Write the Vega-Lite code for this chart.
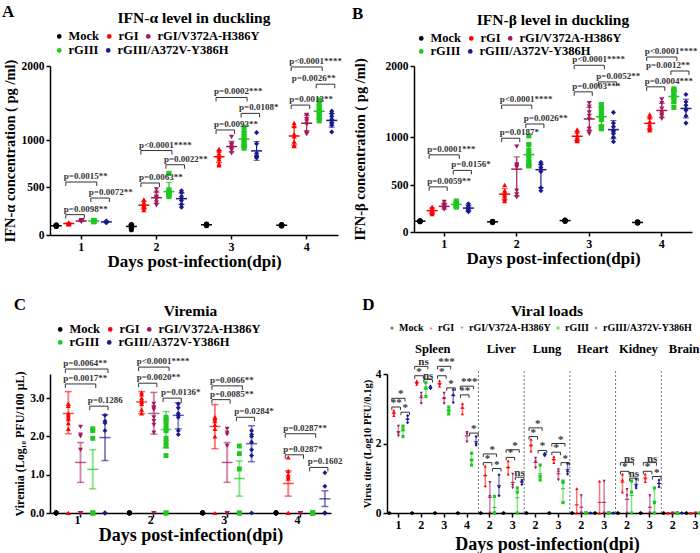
{
  "$schema": "https://vega.github.io/schema/vega-lite/v6.json",
  "padding": {"left": 2, "right": 0, "top": 2, "bottom": 0},
  "datasets": {
    "a_pts": [
      {"d":1,"g":"Mock","v":100},{"d":1,"g":"Mock","v":95},{"d":1,"g":"Mock","v":90},{"d":1,"g":"Mock","v":105},{"d":1,"g":"Mock","v":98},{"d":1,"g":"Mock","v":92},
      {"d":1,"g":"rGI","v":125},{"d":1,"g":"rGI","v":118},{"d":1,"g":"rGI","v":112},{"d":1,"g":"rGI","v":130},{"d":1,"g":"rGI","v":120},{"d":1,"g":"rGI","v":115},
      {"d":1,"g":"rGIV","v":150},{"d":1,"g":"rGIV","v":140},{"d":1,"g":"rGIV","v":145},{"d":1,"g":"rGIV","v":155},{"d":1,"g":"rGIV","v":138},{"d":1,"g":"rGIV","v":148},
      {"d":1,"g":"rGIII","v":148},{"d":1,"g":"rGIII","v":140},{"d":1,"g":"rGIII","v":152},{"d":1,"g":"rGIII","v":145},{"d":1,"g":"rGIII","v":138},{"d":1,"g":"rGIII","v":150},
      {"d":1,"g":"rGIIIA","v":140},{"d":1,"g":"rGIIIA","v":132},{"d":1,"g":"rGIIIA","v":128},{"d":1,"g":"rGIIIA","v":145},{"d":1,"g":"rGIIIA","v":135},{"d":1,"g":"rGIIIA","v":138},
      {"d":2,"g":"Mock","v":110},{"d":2,"g":"Mock","v":100},{"d":2,"g":"Mock","v":95},{"d":2,"g":"Mock","v":90},{"d":2,"g":"Mock","v":85},{"d":2,"g":"Mock","v":55},
      {"d":2,"g":"rGI","v":370},{"d":2,"g":"rGI","v":340},{"d":2,"g":"rGI","v":310},{"d":2,"g":"rGI","v":300},{"d":2,"g":"rGI","v":285},{"d":2,"g":"rGI","v":260},
      {"d":2,"g":"rGIV","v":475},{"d":2,"g":"rGIV","v":440},{"d":2,"g":"rGIV","v":400},{"d":2,"g":"rGIV","v":385},{"d":2,"g":"rGIV","v":370},{"d":2,"g":"rGIV","v":340},{"d":2,"g":"rGIV","v":310},
      {"d":2,"g":"rGIII","v":550},{"d":2,"g":"rGIII","v":470},{"d":2,"g":"rGIII","v":450},{"d":2,"g":"rGIII","v":440},{"d":2,"g":"rGIII","v":430},{"d":2,"g":"rGIII","v":420},{"d":2,"g":"rGIII","v":400},
      {"d":2,"g":"rGIIIA","v":460},{"d":2,"g":"rGIIIA","v":440},{"d":2,"g":"rGIIIA","v":400},{"d":2,"g":"rGIIIA","v":380},{"d":2,"g":"rGIIIA","v":360},{"d":2,"g":"rGIIIA","v":320},{"d":2,"g":"rGIIIA","v":290},
      {"d":3,"g":"Mock","v":115},{"d":3,"g":"Mock","v":108},{"d":3,"g":"Mock","v":100},{"d":3,"g":"Mock","v":105},{"d":3,"g":"Mock","v":112},{"d":3,"g":"Mock","v":98},
      {"d":3,"g":"rGI","v":880},{"d":3,"g":"rGI","v":858},{"d":3,"g":"rGI","v":820},{"d":3,"g":"rGI","v":790},{"d":3,"g":"rGI","v":770},{"d":3,"g":"rGI","v":740},{"d":3,"g":"rGI","v":680},{"d":3,"g":"rGI","v":660},
      {"d":3,"g":"rGIV","v":1040},{"d":3,"g":"rGIV","v":950},{"d":3,"g":"rGIV","v":930},{"d":3,"g":"rGIV","v":900},{"d":3,"g":"rGIV","v":880},{"d":3,"g":"rGIV","v":860},{"d":3,"g":"rGIV","v":820},
      {"d":3,"g":"rGIII","v":1170},{"d":3,"g":"rGIII","v":1100},{"d":3,"g":"rGIII","v":1050},{"d":3,"g":"rGIII","v":1000},{"d":3,"g":"rGIII","v":960},{"d":3,"g":"rGIII","v":920},{"d":3,"g":"rGIII","v":890},
      {"d":3,"g":"rGIIIA","v":1100},{"d":3,"g":"rGIIIA","v":950},{"d":3,"g":"rGIIIA","v":820},{"d":3,"g":"rGIIIA","v":790},{"d":3,"g":"rGIIIA","v":780},{"d":3,"g":"rGIIIA","v":770},{"d":3,"g":"rGIIIA","v":760},
      {"d":4,"g":"Mock","v":110},{"d":4,"g":"Mock","v":100},{"d":4,"g":"Mock","v":95},{"d":4,"g":"Mock","v":105},{"d":4,"g":"Mock","v":98},{"d":4,"g":"Mock","v":102},
      {"d":4,"g":"rGI","v":1230},{"d":4,"g":"rGI","v":1190},{"d":4,"g":"rGI","v":1080},{"d":4,"g":"rGI","v":1050},{"d":4,"g":"rGI","v":980},{"d":4,"g":"rGI","v":930},{"d":4,"g":"rGI","v":920},
      {"d":4,"g":"rGIV","v":1340},{"d":4,"g":"rGIV","v":1330},{"d":4,"g":"rGIV","v":1280},{"d":4,"g":"rGIV","v":1250},{"d":4,"g":"rGIV","v":1210},{"d":4,"g":"rGIV","v":1100},{"d":4,"g":"rGIV","v":1080},
      {"d":4,"g":"rGIII","v":1540},{"d":4,"g":"rGIII","v":1480},{"d":4,"g":"rGIII","v":1420},{"d":4,"g":"rGIII","v":1390},{"d":4,"g":"rGIII","v":1370},{"d":4,"g":"rGIII","v":1350},{"d":4,"g":"rGIII","v":1300},{"d":4,"g":"rGIII","v":1260},
      {"d":4,"g":"rGIIIA","v":1390},{"d":4,"g":"rGIIIA","v":1360},{"d":4,"g":"rGIIIA","v":1320},{"d":4,"g":"rGIIIA","v":1280},{"d":4,"g":"rGIIIA","v":1240},{"d":4,"g":"rGIIIA","v":1220},{"d":4,"g":"rGIIIA","v":1200},{"d":4,"g":"rGIIIA","v":1110}
    ],
    "a_br": [
      {"a":"1|rGI","b":"1|rGIV","y":212,"t":"p=0.0098**"},
      {"a":"1|rGI","b":"1|rGIII","y":500.25,"t":"p=0.0015**"},
      {"a":"1|rGIII","b":"1|rGIIIA","y":385,"t":"p=0.0072**"},
      {"a":"2|rGI","b":"2|rGIV","y":500.2,"t":"p=0.0063**"},
      {"a":"2|rGI","b":"2|rGIII","y":858,"t":"p<0.0001****"},
      {"a":"2|rGIII","b":"2|rGIIIA","y":666,"t":"p=0.0022**"},
      {"a":"3|rGI","b":"3|rGIV","y":1136,"t":"p=0.0093**"},
      {"a":"3|rGI","b":"3|rGIII","y":1575,"t":"p=0.0002***"},
      {"a":"3|rGIII","b":"3|rGIIIA","y":1360,"t":"p=0.0108*"},
      {"a":"4|rGI","b":"4|rGIV","y":1472,"t":"p=0.0013**"},
      {"a":"4|rGI","b":"4|rGIII","y":1987,"t":"p<0.0001****"},
      {"a":"4|rGIII","b":"4|rGIIIA","y":1754,"t":"p=0.0026**"}
    ],
    "b_pts": [
      {"d":1,"g":"Mock","v":120},{"d":1,"g":"Mock","v":115},{"d":1,"g":"Mock","v":112},{"d":1,"g":"Mock","v":118},{"d":1,"g":"Mock","v":110},{"d":1,"g":"Mock","v":116},
      {"d":1,"g":"rGI","v":270},{"d":1,"g":"rGI","v":250},{"d":1,"g":"rGI","v":235},{"d":1,"g":"rGI","v":225},{"d":1,"g":"rGI","v":215},{"d":1,"g":"rGI","v":205},{"d":1,"g":"rGI","v":190},
      {"d":1,"g":"rGIV","v":320},{"d":1,"g":"rGIV","v":290},{"d":1,"g":"rGIV","v":275},{"d":1,"g":"rGIV","v":260},{"d":1,"g":"rGIV","v":250},{"d":1,"g":"rGIV","v":240},
      {"d":1,"g":"rGIII","v":330},{"d":1,"g":"rGIII","v":310},{"d":1,"g":"rGIII","v":295},{"d":1,"g":"rGIII","v":285},{"d":1,"g":"rGIII","v":275},{"d":1,"g":"rGIII","v":265},
      {"d":1,"g":"rGIIIA","v":300},{"d":1,"g":"rGIIIA","v":280},{"d":1,"g":"rGIIIA","v":265},{"d":1,"g":"rGIIIA","v":255},{"d":1,"g":"rGIIIA","v":240},{"d":1,"g":"rGIIIA","v":225},{"d":1,"g":"rGIIIA","v":215},
      {"d":2,"g":"Mock","v":115},{"d":2,"g":"Mock","v":110},{"d":2,"g":"Mock","v":105},{"d":2,"g":"Mock","v":112},{"d":2,"g":"Mock","v":108},{"d":2,"g":"Mock","v":100},
      {"d":2,"g":"rGI","v":500},{"d":2,"g":"rGI","v":440},{"d":2,"g":"rGI","v":420},{"d":2,"g":"rGI","v":400},{"d":2,"g":"rGI","v":380},{"d":2,"g":"rGI","v":350},{"d":2,"g":"rGI","v":330},
      {"d":2,"g":"rGIV","v":870},{"d":2,"g":"rGIV","v":620},{"d":2,"g":"rGIV","v":600},{"d":2,"g":"rGIV","v":580},{"d":2,"g":"rGIV","v":440},{"d":2,"g":"rGIV","v":400},{"d":2,"g":"rGIV","v":370},
      {"d":2,"g":"rGIII","v":1020},{"d":2,"g":"rGIII","v":900},{"d":2,"g":"rGIII","v":820},{"d":2,"g":"rGIII","v":760},{"d":2,"g":"rGIII","v":700},{"d":2,"g":"rGIII","v":650},{"d":2,"g":"rGIII","v":610},{"d":2,"g":"rGIII","v":600},
      {"d":2,"g":"rGIIIA","v":650},{"d":2,"g":"rGIIIA","v":620},{"d":2,"g":"rGIIIA","v":580},{"d":2,"g":"rGIIIA","v":550},{"d":2,"g":"rGIIIA","v":520},{"d":2,"g":"rGIIIA","v":470},{"d":2,"g":"rGIIIA","v":440},
      {"d":3,"g":"Mock","v":125},{"d":3,"g":"Mock","v":120},{"d":3,"g":"Mock","v":118},{"d":3,"g":"Mock","v":122},{"d":3,"g":"Mock","v":115},{"d":3,"g":"Mock","v":128},
      {"d":3,"g":"rGI","v":1110},{"d":3,"g":"rGI","v":1080},{"d":3,"g":"rGI","v":1030},{"d":3,"g":"rGI","v":1000},{"d":3,"g":"rGI","v":980},{"d":3,"g":"rGI","v":960},{"d":3,"g":"rGI","v":950},
      {"d":3,"g":"rGIV","v":1480},{"d":3,"g":"rGIV","v":1430},{"d":3,"g":"rGIV","v":1350},{"d":3,"g":"rGIV","v":1300},{"d":3,"g":"rGIV","v":1250},{"d":3,"g":"rGIV","v":1120},{"d":3,"g":"rGIV","v":1080},{"d":3,"g":"rGIV","v":1050},
      {"d":3,"g":"rGIII","v":1460},{"d":3,"g":"rGIII","v":1400},{"d":3,"g":"rGIII","v":1350},{"d":3,"g":"rGIII","v":1300},{"d":3,"g":"rGIII","v":1250},{"d":3,"g":"rGIII","v":1150},{"d":3,"g":"rGIII","v":1120},
      {"d":3,"g":"rGIIIA","v":1350},{"d":3,"g":"rGIIIA","v":1200},{"d":3,"g":"rGIIIA","v":1150},{"d":3,"g":"rGIIIA","v":1100},{"d":3,"g":"rGIIIA","v":1080},{"d":3,"g":"rGIIIA","v":1050},{"d":3,"g":"rGIIIA","v":1000},{"d":3,"g":"rGIIIA","v":940},
      {"d":4,"g":"Mock","v":108},{"d":4,"g":"Mock","v":102},{"d":4,"g":"Mock","v":98},{"d":4,"g":"Mock","v":105},{"d":4,"g":"Mock","v":100},{"d":4,"g":"Mock","v":95},
      {"d":4,"g":"rGI","v":1320},{"d":4,"g":"rGI","v":1280},{"d":4,"g":"rGI","v":1220},{"d":4,"g":"rGI","v":1180},{"d":4,"g":"rGI","v":1150},{"d":4,"g":"rGI","v":1120},{"d":4,"g":"rGI","v":1100},
      {"d":4,"g":"rGIV","v":1530},{"d":4,"g":"rGIV","v":1480},{"d":4,"g":"rGIV","v":1400},{"d":4,"g":"rGIV","v":1350},{"d":4,"g":"rGIV","v":1320},{"d":4,"g":"rGIV","v":1300},{"d":4,"g":"rGIV","v":1260},
      {"d":4,"g":"rGIII","v":1680},{"d":4,"g":"rGIII","v":1660},{"d":4,"g":"rGIII","v":1620},{"d":4,"g":"rGIII","v":1580},{"d":4,"g":"rGIII","v":1550},{"d":4,"g":"rGIII","v":1500},{"d":4,"g":"rGIII","v":1420},
      {"d":4,"g":"rGIIIA","v":1600},{"d":4,"g":"rGIIIA","v":1500},{"d":4,"g":"rGIIIA","v":1450},{"d":4,"g":"rGIIIA","v":1400},{"d":4,"g":"rGIIIA","v":1380},{"d":4,"g":"rGIIIA","v":1300},{"d":4,"g":"rGIIIA","v":1200}
    ],
    "b_br": [
      {"a":"1|rGI","b":"1|rGIV","y":480,"t":"p=0.0059**"},
      {"a":"1|rGI","b":"1|rGIII","y":755,"t":"p=0.0001***"},
      {"a":"1|rGIII","b":"1|rGIIIA","y":537,"t":"p=0.0156*"},
      {"a":"2|rGI","b":"2|rGIV","y":988,"t":"p=0.0187*"},
      {"a":"2|rGI","b":"2|rGIII","y":1452,"t":"p<0.0001****"},
      {"a":"2|rGIII","b":"2|rGIIIA","y":1187,"t":"p=0.0026**"},
      {"a":"3|rGI","b":"3|rGIV","y":1638,"t":"p=0.0003***"},
      {"a":"3|rGI","b":"3|rGIII","y":2010,"t":"p<0.0001****"},
      {"a":"3|rGIII","b":"3|rGIIIA","y":1777,"t":"p=0.0052**"},
      {"a":"4|rGI","b":"4|rGIV","y":1708,"t":"p=0.0004***"},
      {"a":"4|rGI","b":"4|rGIII","y":2126,"t":"p<0.0001****"},
      {"a":"4|rGIII","b":"4|rGIIIA","y":1930,"t":"p=0.0012**"}
    ],
    "c_pts": [
      {"d":1,"g":"Mock","v":0},{"d":1,"g":"Mock","v":0},{"d":1,"g":"Mock","v":0},{"d":1,"g":"Mock","v":0},{"d":1,"g":"Mock","v":0},{"d":1,"g":"Mock","v":0},
      {"d":1,"g":"rGI","v":2.85},{"d":1,"g":"rGI","v":2.85},{"d":1,"g":"rGI","v":2.8},{"d":1,"g":"rGI","v":2.6},{"d":1,"g":"rGI","v":2.55},{"d":1,"g":"rGI","v":2.5},{"d":1,"g":"rGI","v":2.45},{"d":1,"g":"rGI","v":2.35},{"d":1,"g":"rGI","v":2.2},{"d":1,"g":"rGI","v":0},{"d":1,"g":"rGI","v":0},
      {"d":1,"g":"rGIV","v":2.25},{"d":1,"g":"rGIV","v":2.05},{"d":1,"g":"rGIV","v":2.0},{"d":1,"g":"rGIV","v":1.65},{"d":1,"g":"rGIV","v":0},{"d":1,"g":"rGIV","v":0},{"d":1,"g":"rGIV","v":0},{"d":1,"g":"rGIV","v":0},
      {"d":1,"g":"rGIII","v":2.2},{"d":1,"g":"rGIII","v":2.15},{"d":1,"g":"rGIII","v":1.95},{"d":1,"g":"rGIII","v":0},{"d":1,"g":"rGIII","v":0},{"d":1,"g":"rGIII","v":0},
      {"d":1,"g":"rGIIIA","v":2.55},{"d":1,"g":"rGIIIA","v":2.4},{"d":1,"g":"rGIIIA","v":2.35},{"d":1,"g":"rGIIIA","v":2.15},{"d":1,"g":"rGIIIA","v":0},{"d":1,"g":"rGIIIA","v":0},{"d":1,"g":"rGIIIA","v":0},
      {"d":2,"g":"Mock","v":0},{"d":2,"g":"Mock","v":0},{"d":2,"g":"Mock","v":0},{"d":2,"g":"Mock","v":0},{"d":2,"g":"Mock","v":0},{"d":2,"g":"Mock","v":0},
      {"d":2,"g":"rGI","v":3.15},{"d":2,"g":"rGI","v":3.1},{"d":2,"g":"rGI","v":3.0},{"d":2,"g":"rGI","v":2.95},{"d":2,"g":"rGI","v":2.9},{"d":2,"g":"rGI","v":2.85},{"d":2,"g":"rGI","v":2.7},{"d":2,"g":"rGI","v":2.6},
      {"d":2,"g":"rGIV","v":2.85},{"d":2,"g":"rGIV","v":2.75},{"d":2,"g":"rGIV","v":2.75},{"d":2,"g":"rGIV","v":2.7},{"d":2,"g":"rGIV","v":2.5},{"d":2,"g":"rGIV","v":2.4},{"d":2,"g":"rGIV","v":2.3},{"d":2,"g":"rGIV","v":2.1},{"d":2,"g":"rGIV","v":0},{"d":2,"g":"rGIV","v":0},
      {"d":2,"g":"rGIII","v":2.5},{"d":2,"g":"rGIII","v":2.45},{"d":2,"g":"rGIII","v":2.4},{"d":2,"g":"rGIII","v":2.3},{"d":2,"g":"rGIII","v":2.2},{"d":2,"g":"rGIII","v":2.15},{"d":2,"g":"rGIII","v":1.95},{"d":2,"g":"rGIII","v":1.85},{"d":2,"g":"rGIII","v":1.75},{"d":2,"g":"rGIII","v":1.5},{"d":2,"g":"rGIII","v":0},{"d":2,"g":"rGIII","v":0},
      {"d":2,"g":"rGIIIA","v":2.85},{"d":2,"g":"rGIIIA","v":2.75},{"d":2,"g":"rGIIIA","v":2.6},{"d":2,"g":"rGIIIA","v":2.55},{"d":2,"g":"rGIIIA","v":2.5},{"d":2,"g":"rGIIIA","v":2.15},{"d":2,"g":"rGIIIA","v":2.05},
      {"d":3,"g":"Mock","v":0},{"d":3,"g":"Mock","v":0},{"d":3,"g":"Mock","v":0},{"d":3,"g":"Mock","v":0},{"d":3,"g":"Mock","v":0},{"d":3,"g":"Mock","v":0},
      {"d":3,"g":"rGI","v":2.5},{"d":3,"g":"rGI","v":2.5},{"d":3,"g":"rGI","v":2.45},{"d":3,"g":"rGI","v":2.4},{"d":3,"g":"rGI","v":2.3},{"d":3,"g":"rGI","v":2.2},{"d":3,"g":"rGI","v":2.0},{"d":3,"g":"rGI","v":0},
      {"d":3,"g":"rGIV","v":2.2},{"d":3,"g":"rGIV","v":2.1},{"d":3,"g":"rGIV","v":2.05},{"d":3,"g":"rGIV","v":1.75},{"d":3,"g":"rGIV","v":0},{"d":3,"g":"rGIV","v":0},{"d":3,"g":"rGIV","v":0},
      {"d":3,"g":"rGIII","v":1.75},{"d":3,"g":"rGIII","v":1.55},{"d":3,"g":"rGIII","v":1.15},{"d":3,"g":"rGIII","v":0},{"d":3,"g":"rGIII","v":0},
      {"d":3,"g":"rGIIIA","v":2.15},{"d":3,"g":"rGIIIA","v":2.05},{"d":3,"g":"rGIIIA","v":2.0},{"d":3,"g":"rGIIIA","v":1.85},{"d":3,"g":"rGIIIA","v":1.65},{"d":3,"g":"rGIIIA","v":1.5},{"d":3,"g":"rGIIIA","v":0},
      {"d":4,"g":"Mock","v":0},{"d":4,"g":"Mock","v":0},{"d":4,"g":"Mock","v":0},{"d":4,"g":"Mock","v":0},{"d":4,"g":"Mock","v":0},{"d":4,"g":"Mock","v":0},
      {"d":4,"g":"rGI","v":1.45},{"d":4,"g":"rGI","v":1.1},{"d":4,"g":"rGI","v":1.0},{"d":4,"g":"rGI","v":0.95},{"d":4,"g":"rGI","v":0.9},{"d":4,"g":"rGI","v":0},{"d":4,"g":"rGI","v":0},{"d":4,"g":"rGI","v":0},
      {"d":4,"g":"rGIV","v":0},{"d":4,"g":"rGIV","v":0},{"d":4,"g":"rGIV","v":0},{"d":4,"g":"rGIV","v":0},
      {"d":4,"g":"rGIII","v":0},{"d":4,"g":"rGIII","v":0},{"d":4,"g":"rGIII","v":0},{"d":4,"g":"rGIII","v":0},
      {"d":4,"g":"rGIIIA","v":1.05},{"d":4,"g":"rGIIIA","v":0.7},{"d":4,"g":"rGIIIA","v":0},{"d":4,"g":"rGIIIA","v":0},{"d":4,"g":"rGIIIA","v":0}
    ],
    "c_sum": [
      {"d":1,"g":"rGI","m":2.6,"lo":2.07,"hi":3.17},
      {"d":1,"g":"rGIV","m":1.32,"lo":0.8,"hi":1.84},
      {"d":1,"g":"rGIII","m":1.14,"lo":0.63,"hi":1.65},
      {"d":1,"g":"rGIIIA","m":1.97,"lo":1.37,"hi":2.57},
      {"d":2,"g":"rGI","m":2.9,"lo":2.6,"hi":3.17},
      {"d":2,"g":"rGIV","m":2.6,"lo":2.06,"hi":3.15},
      {"d":2,"g":"rGIII","m":2.18,"lo":1.7,"hi":2.65},
      {"d":2,"g":"rGIIIA","m":2.55,"lo":2.2,"hi":2.88},
      {"d":3,"g":"rGI","m":2.26,"lo":1.68,"hi":2.83},
      {"d":3,"g":"rGIV","m":1.32,"lo":0.8,"hi":1.84},
      {"d":3,"g":"rGIII","m":0.9,"lo":0.44,"hi":1.36},
      {"d":3,"g":"rGIIIA","m":1.81,"lo":1.34,"hi":2.28},
      {"d":4,"g":"rGI","m":0.77,"lo":0.44,"hi":1.1},
      {"d":4,"g":"rGIIIA","m":0.37,"lo":0.17,"hi":0.58}
    ],
    "c_br": [
      {"a":"1|rGI","b":"1|rGIII","y":3.37,"t":"p=0.0017**"},
      {"a":"1|rGI","b":"1|rGIIIA","y":3.76,"t":"p=0.0064**"},
      {"a":"1|rGIII","b":"1|rGIIIA","y":2.79,"t":"p=0.1286"},
      {"a":"2|rGI","b":"2|rGIV","y":3.39,"t":"p=0.0020**"},
      {"a":"2|rGI","b":"2|rGIII","y":3.81,"t":"p<0.0001****"},
      {"a":"2|rGIII","b":"2|rGIIIA","y":3.0,"t":"p=0.0136*"},
      {"a":"3|rGI","b":"3|rGIV","y":2.96,"t":"p=0.0085**"},
      {"a":"3|rGI","b":"3|rGIII","y":3.32,"t":"p=0.0066**"},
      {"a":"3|rGIII","b":"3|rGIIIA","y":2.5,"t":"p=0.0284*"},
      {"a":"4|rGI","b":"4|rGIV","y":1.52,"t":"p=0.0287*"},
      {"a":"4|rGI","b":"4|rGIII","y":2.07,"t":"p=0.0287**"},
      {"a":"4|rGIII","b":"4|rGIIIA","y":1.19,"t":"p=0.1602"}
    ],
    "d_pts": [
      {"o":"Spleen","d":1,"g":"Mock","v":0},{"o":"Spleen","d":1,"g":"Mock","v":0},{"o":"Spleen","d":1,"g":"Mock","v":0},
      {"o":"Spleen","d":1,"g":"rGI","v":2.95},{"o":"Spleen","d":1,"g":"rGI","v":2.88},{"o":"Spleen","d":1,"g":"rGI","v":2.8},
      {"o":"Spleen","d":1,"g":"rGIV","v":2.5},{"o":"Spleen","d":1,"g":"rGIV","v":2.3},{"o":"Spleen","d":1,"g":"rGIV","v":2.22},
      {"o":"Spleen","d":1,"g":"rGIII","v":2.5},{"o":"Spleen","d":1,"g":"rGIII","v":2.4},{"o":"Spleen","d":1,"g":"rGIII","v":2.2},
      {"o":"Spleen","d":1,"g":"rGIIIA","v":2.8},{"o":"Spleen","d":1,"g":"rGIIIA","v":2.7},{"o":"Spleen","d":1,"g":"rGIIIA","v":2.6},
      {"o":"Spleen","d":2,"g":"Mock","v":0},{"o":"Spleen","d":2,"g":"Mock","v":0},{"o":"Spleen","d":2,"g":"Mock","v":0},
      {"o":"Spleen","d":2,"g":"rGI","v":3.8},{"o":"Spleen","d":2,"g":"rGI","v":3.75},{"o":"Spleen","d":2,"g":"rGI","v":3.7},
      {"o":"Spleen","d":2,"g":"rGIV","v":3.45},{"o":"Spleen","d":2,"g":"rGIV","v":3.35},{"o":"Spleen","d":2,"g":"rGIV","v":3.15},
      {"o":"Spleen","d":2,"g":"rGIII","v":3.75},{"o":"Spleen","d":2,"g":"rGIII","v":3.6},{"o":"Spleen","d":2,"g":"rGIII","v":3.35},
      {"o":"Spleen","d":2,"g":"rGIIIA","v":3.65},{"o":"Spleen","d":2,"g":"rGIIIA","v":3.6},{"o":"Spleen","d":2,"g":"rGIIIA","v":3.58},
      {"o":"Spleen","d":3,"g":"Mock","v":0},{"o":"Spleen","d":3,"g":"Mock","v":0},{"o":"Spleen","d":3,"g":"Mock","v":0},
      {"o":"Spleen","d":3,"g":"rGI","v":3.8},{"o":"Spleen","d":3,"g":"rGI","v":3.72},{"o":"Spleen","d":3,"g":"rGI","v":3.65},
      {"o":"Spleen","d":3,"g":"rGIV","v":3.45},{"o":"Spleen","d":3,"g":"rGIV","v":3.3},{"o":"Spleen","d":3,"g":"rGIV","v":3.15},
      {"o":"Spleen","d":3,"g":"rGIII","v":3.05},{"o":"Spleen","d":3,"g":"rGIII","v":2.95},{"o":"Spleen","d":3,"g":"rGIII","v":2.85},
      {"o":"Spleen","d":3,"g":"rGIIIA","v":3.55},{"o":"Spleen","d":3,"g":"rGIIIA","v":3.4},{"o":"Spleen","d":3,"g":"rGIIIA","v":3.18},
      {"o":"Spleen","d":4,"g":"Mock","v":0},{"o":"Spleen","d":4,"g":"Mock","v":0},{"o":"Spleen","d":4,"g":"Mock","v":0},
      {"o":"Spleen","d":4,"g":"rGI","v":3.15},{"o":"Spleen","d":4,"g":"rGI","v":3.05},{"o":"Spleen","d":4,"g":"rGI","v":2.85},
      {"o":"Spleen","d":4,"g":"rGIV","v":2.32},{"o":"Spleen","d":4,"g":"rGIV","v":2.28},{"o":"Spleen","d":4,"g":"rGIV","v":2.05},
      {"o":"Spleen","d":4,"g":"rGIII","v":1.72},{"o":"Spleen","d":4,"g":"rGIII","v":1.52},{"o":"Spleen","d":4,"g":"rGIII","v":1.38},
      {"o":"Spleen","d":4,"g":"rGIIIA","v":2.2},{"o":"Spleen","d":4,"g":"rGIIIA","v":2.0},{"o":"Spleen","d":4,"g":"rGIIIA","v":1.95},
      {"o":"Liver","d":2,"g":"Mock","v":0},{"o":"Liver","d":2,"g":"Mock","v":0},{"o":"Liver","d":2,"g":"Mock","v":0},
      {"o":"Liver","d":2,"g":"rGI","v":1.35},{"o":"Liver","d":2,"g":"rGI","v":1.1},{"o":"Liver","d":2,"g":"rGI","v":0.78},
      {"o":"Liver","d":2,"g":"rGIV","v":0.88},{"o":"Liver","d":2,"g":"rGIV","v":0.48},{"o":"Liver","d":2,"g":"rGIV","v":0},
      {"o":"Liver","d":2,"g":"rGIII","v":0.48},{"o":"Liver","d":2,"g":"rGIII","v":0},{"o":"Liver","d":2,"g":"rGIII","v":0},
      {"o":"Liver","d":2,"g":"rGIIIA","v":1.1},{"o":"Liver","d":2,"g":"rGIIIA","v":0.75},{"o":"Liver","d":2,"g":"rGIIIA","v":0.5},
      {"o":"Liver","d":3,"g":"Mock","v":0},{"o":"Liver","d":3,"g":"Mock","v":0},{"o":"Liver","d":3,"g":"Mock","v":0},
      {"o":"Liver","d":3,"g":"rGI","v":1.5},{"o":"Liver","d":3,"g":"rGI","v":1.32},{"o":"Liver","d":3,"g":"rGI","v":1.12},
      {"o":"Liver","d":3,"g":"rGIV","v":1.12},{"o":"Liver","d":3,"g":"rGIV","v":0.8},{"o":"Liver","d":3,"g":"rGIV","v":0.72},
      {"o":"Liver","d":3,"g":"rGIII","v":0.72},{"o":"Liver","d":3,"g":"rGIII","v":0.6},{"o":"Liver","d":3,"g":"rGIII","v":0},
      {"o":"Liver","d":3,"g":"rGIIIA","v":0.95},{"o":"Liver","d":3,"g":"rGIIIA","v":0.9},{"o":"Liver","d":3,"g":"rGIIIA","v":0.82},
      {"o":"Lung","d":2,"g":"Mock","v":0},{"o":"Lung","d":2,"g":"Mock","v":0},{"o":"Lung","d":2,"g":"Mock","v":0},
      {"o":"Lung","d":2,"g":"rGI","v":2.12},{"o":"Lung","d":2,"g":"rGI","v":1.95},{"o":"Lung","d":2,"g":"rGI","v":1.78},
      {"o":"Lung","d":2,"g":"rGIV","v":1.58},{"o":"Lung","d":2,"g":"rGIV","v":1.48},{"o":"Lung","d":2,"g":"rGIV","v":1.3},
      {"o":"Lung","d":2,"g":"rGIII","v":1.38},{"o":"Lung","d":2,"g":"rGIII","v":1.05},{"o":"Lung","d":2,"g":"rGIII","v":0.95},
      {"o":"Lung","d":2,"g":"rGIIIA","v":1.72},{"o":"Lung","d":2,"g":"rGIIIA","v":1.68},{"o":"Lung","d":2,"g":"rGIIIA","v":1.65},
      {"o":"Lung","d":3,"g":"Mock","v":0},{"o":"Lung","d":3,"g":"Mock","v":0},{"o":"Lung","d":3,"g":"Mock","v":0},
      {"o":"Lung","d":3,"g":"rGI","v":1.62},{"o":"Lung","d":3,"g":"rGI","v":1.55},{"o":"Lung","d":3,"g":"rGI","v":1.45},
      {"o":"Lung","d":3,"g":"rGIV","v":1.25},{"o":"Lung","d":3,"g":"rGIV","v":1.18},{"o":"Lung","d":3,"g":"rGIV","v":0.95},
      {"o":"Lung","d":3,"g":"rGIII","v":0.92},{"o":"Lung","d":3,"g":"rGIII","v":0.88},{"o":"Lung","d":3,"g":"rGIII","v":0.3},
      {"o":"Lung","d":3,"g":"rGIIIA","v":1.42},{"o":"Lung","d":3,"g":"rGIIIA","v":1.2},{"o":"Lung","d":3,"g":"rGIIIA","v":1.12},
      {"o":"Heart","d":2,"g":"Mock","v":0},{"o":"Heart","d":2,"g":"Mock","v":0},{"o":"Heart","d":2,"g":"Mock","v":0},
      {"o":"Heart","d":2,"g":"rGI","v":0.7},{"o":"Heart","d":2,"g":"rGI","v":0},{"o":"Heart","d":2,"g":"rGI","v":0},
      {"o":"Heart","d":2,"g":"rGIV","v":0.5},{"o":"Heart","d":2,"g":"rGIV","v":0},{"o":"Heart","d":2,"g":"rGIV","v":0},
      {"o":"Heart","d":2,"g":"rGIII","v":0},{"o":"Heart","d":2,"g":"rGIII","v":0},{"o":"Heart","d":2,"g":"rGIII","v":0},
      {"o":"Heart","d":2,"g":"rGIIIA","v":0},{"o":"Heart","d":2,"g":"rGIIIA","v":0},{"o":"Heart","d":2,"g":"rGIIIA","v":0},
      {"o":"Heart","d":3,"g":"Mock","v":0},{"o":"Heart","d":3,"g":"Mock","v":0},{"o":"Heart","d":3,"g":"Mock","v":0},
      {"o":"Heart","d":3,"g":"rGI","v":0.92},{"o":"Heart","d":3,"g":"rGI","v":0},{"o":"Heart","d":3,"g":"rGI","v":0},
      {"o":"Heart","d":3,"g":"rGIV","v":0.92},{"o":"Heart","d":3,"g":"rGIV","v":0},{"o":"Heart","d":3,"g":"rGIV","v":0},
      {"o":"Heart","d":3,"g":"rGIII","v":0},{"o":"Heart","d":3,"g":"rGIII","v":0},{"o":"Heart","d":3,"g":"rGIII","v":0},
      {"o":"Heart","d":3,"g":"rGIIIA","v":0},{"o":"Heart","d":3,"g":"rGIIIA","v":0},{"o":"Heart","d":3,"g":"rGIIIA","v":0},
      {"o":"Kidney","d":2,"g":"Mock","v":0},{"o":"Kidney","d":2,"g":"Mock","v":0},{"o":"Kidney","d":2,"g":"Mock","v":0},
      {"o":"Kidney","d":2,"g":"rGI","v":1.12},{"o":"Kidney","d":2,"g":"rGI","v":0.95},{"o":"Kidney","d":2,"g":"rGI","v":0.6},
      {"o":"Kidney","d":2,"g":"rGIV","v":0.68},{"o":"Kidney","d":2,"g":"rGIV","v":0.5},{"o":"Kidney","d":2,"g":"rGIV","v":0},
      {"o":"Kidney","d":2,"g":"rGIII","v":0.92},{"o":"Kidney","d":2,"g":"rGIII","v":0.6},{"o":"Kidney","d":2,"g":"rGIII","v":0},
      {"o":"Kidney","d":2,"g":"rGIIIA","v":0.98},{"o":"Kidney","d":2,"g":"rGIIIA","v":0.78},{"o":"Kidney","d":2,"g":"rGIIIA","v":0.72},
      {"o":"Kidney","d":3,"g":"Mock","v":0},{"o":"Kidney","d":3,"g":"Mock","v":0},{"o":"Kidney","d":3,"g":"Mock","v":0},
      {"o":"Kidney","d":3,"g":"rGI","v":1.12},{"o":"Kidney","d":3,"g":"rGI","v":1.0},{"o":"Kidney","d":3,"g":"rGI","v":0.9},
      {"o":"Kidney","d":3,"g":"rGIV","v":0.5},{"o":"Kidney","d":3,"g":"rGIV","v":0},{"o":"Kidney","d":3,"g":"rGIV","v":0},
      {"o":"Kidney","d":3,"g":"rGIII","v":0.72},{"o":"Kidney","d":3,"g":"rGIII","v":0.3},{"o":"Kidney","d":3,"g":"rGIII","v":0},
      {"o":"Kidney","d":3,"g":"rGIIIA","v":0.95},{"o":"Kidney","d":3,"g":"rGIIIA","v":0.85},{"o":"Kidney","d":3,"g":"rGIIIA","v":0.75},
      {"o":"Brain","d":2,"g":"Mock","v":0},{"o":"Brain","d":2,"g":"Mock","v":0},{"o":"Brain","d":2,"g":"Mock","v":0},
      {"o":"Brain","d":2,"g":"rGI","v":0},{"o":"Brain","d":2,"g":"rGI","v":0},{"o":"Brain","d":2,"g":"rGI","v":0},
      {"o":"Brain","d":2,"g":"rGIV","v":0},{"o":"Brain","d":2,"g":"rGIV","v":0},{"o":"Brain","d":2,"g":"rGIV","v":0},
      {"o":"Brain","d":2,"g":"rGIII","v":0},{"o":"Brain","d":2,"g":"rGIII","v":0},{"o":"Brain","d":2,"g":"rGIII","v":0},
      {"o":"Brain","d":2,"g":"rGIIIA","v":0},{"o":"Brain","d":2,"g":"rGIIIA","v":0},{"o":"Brain","d":2,"g":"rGIIIA","v":0},
      {"o":"Brain","d":3,"g":"Mock","v":0},{"o":"Brain","d":3,"g":"Mock","v":0},{"o":"Brain","d":3,"g":"Mock","v":0},
      {"o":"Brain","d":3,"g":"rGI","v":0},{"o":"Brain","d":3,"g":"rGI","v":0},{"o":"Brain","d":3,"g":"rGI","v":0},
      {"o":"Brain","d":3,"g":"rGIV","v":0},{"o":"Brain","d":3,"g":"rGIV","v":0},{"o":"Brain","d":3,"g":"rGIV","v":0},
      {"o":"Brain","d":3,"g":"rGIII","v":0},{"o":"Brain","d":3,"g":"rGIII","v":0},{"o":"Brain","d":3,"g":"rGIII","v":0},
      {"o":"Brain","d":3,"g":"rGIIIA","v":0},{"o":"Brain","d":3,"g":"rGIIIA","v":0},{"o":"Brain","d":3,"g":"rGIIIA","v":0}
    ],
    "d_br": [
      {"a":"Spleen|1|rGI","b":"Spleen|1|rGIV","y":3.05,"t":"**"},
      {"a":"Spleen|1|rGI","b":"Spleen|1|rGIII","y":3.3,"t":"*"},
      {"a":"Spleen|1|rGIII","b":"Spleen|1|rGIIIA","y":2.9,"t":"*"},
      {"a":"Spleen|2|rGI","b":"Spleen|2|rGIV","y":3.95,"t":"*"},
      {"a":"Spleen|2|rGI","b":"Spleen|2|rGIII","y":4.22,"t":"ns"},
      {"a":"Spleen|2|rGIII","b":"Spleen|2|rGIIIA","y":3.84,"t":"ns"},
      {"a":"Spleen|3|rGI","b":"Spleen|3|rGIV","y":3.95,"t":"*"},
      {"a":"Spleen|3|rGI","b":"Spleen|3|rGIII","y":4.22,"t":"***"},
      {"a":"Spleen|3|rGIII","b":"Spleen|3|rGIIIA","y":3.6,"t":"*"},
      {"a":"Spleen|4|rGI","b":"Spleen|4|rGIV","y":3.4,"t":"**"},
      {"a":"Spleen|4|rGI","b":"Spleen|4|rGIII","y":3.65,"t":"***"},
      {"a":"Spleen|4|rGIII","b":"Spleen|4|rGIIIA","y":2.3,"t":"*"},
      {"a":"Liver|2|rGI","b":"Liver|2|rGIV","y":1.45,"t":"*"},
      {"a":"Liver|2|rGI","b":"Liver|2|rGIII","y":1.7,"t":"*"},
      {"a":"Liver|2|rGIII","b":"Liver|2|rGIIIA","y":1.28,"t":"*"},
      {"a":"Liver|3|rGI","b":"Liver|3|rGIV","y":1.6,"t":"*"},
      {"a":"Liver|3|rGI","b":"Liver|3|rGIII","y":1.82,"t":"*"},
      {"a":"Liver|3|rGIII","b":"Liver|3|rGIIIA","y":1.03,"t":"ns"},
      {"a":"Lung|2|rGI","b":"Lung|2|rGIV","y":2.2,"t":"*"},
      {"a":"Lung|2|rGI","b":"Lung|2|rGIII","y":2.45,"t":"*"},
      {"a":"Lung|2|rGIII","b":"Lung|2|rGIIIA","y":1.8,"t":"*"},
      {"a":"Lung|3|rGI","b":"Lung|3|rGIV","y":1.75,"t":"*"},
      {"a":"Lung|3|rGI","b":"Lung|3|rGIII","y":2.0,"t":"*"},
      {"a":"Lung|3|rGIII","b":"Lung|3|rGIIIA","y":1.45,"t":"*"},
      {"a":"Kidney|2|rGI","b":"Kidney|2|rGIV","y":1.2,"t":"*"},
      {"a":"Kidney|2|rGI","b":"Kidney|2|rGIII","y":1.45,"t":"ns"},
      {"a":"Kidney|2|rGIII","b":"Kidney|2|rGIIIA","y":1.0,"t":"ns"},
      {"a":"Kidney|3|rGI","b":"Kidney|3|rGIV","y":1.2,"t":"*"},
      {"a":"Kidney|3|rGI","b":"Kidney|3|rGIII","y":1.45,"t":"ns"},
      {"a":"Kidney|3|rGIII","b":"Kidney|3|rGIIIA","y":1.05,"t":"*"}
    ],
    "d_org": [
      {"o":"Spleen"},{"o":"Liver"},{"o":"Lung"},{"o":"Heart"},{"o":"Kidney"},{"o":"Brain"}
    ]
  },
  "vconcat": [
    {
      "hconcat": [
        {
          "title": {"text": "A", "anchor": "start", "fontSize": 17, "offset": -10},
          "resolve": {"scale": {"color": "independent", "shape": "independent"}},
          "vconcat": [
            {
              "title": {"text": "IFN-α level  in duckling", "fontSize": 15.5, "offset": 4},
              "width": 288, "height": 169,
              "resolve": {"scale": {"color": "independent"}},
              "layer": [
                {
                  "data": {"name": "a_pts"},
                  "transform": [{"calculate": "datum.d + '|' + datum.g", "as": "k"}],
                  "resolve": {"scale": {"color": "independent"}},
                  "encoding": {
                    "x": {"field": "k", "type": "nominal", "title": "Days post-infection(dpi)",
                      "scale": {"domain": ["1|Mock","1|rGI","1|rGIV","1|rGIII","1|rGIIIA","s1","2|Mock","2|rGI","2|rGIV","2|rGIII","2|rGIIIA","s2","3|Mock","3|rGI","3|rGIV","3|rGIII","3|rGIIIA","s3","4|Mock","4|rGI","4|rGIV","4|rGIII","4|rGIIIA"], "paddingInner": 0, "paddingOuter": 0},
                      "axis": {"values": ["1|rGIV","2|rGIV","3|rGIV","4|rGIV"], "labelExpr": "split(datum.value,'|')[0]", "labelAngle": 0, "titleFontSize": 17, "labelFontSize": 12, "titlePadding": 1}},
                    "y": {"field": "v", "type": "quantitative", "title": "IFN-α concentration ( pg /ml)",
                      "scale": {"domain": [0, 500, 500.5, 2000], "range": [169, 121, 111, 0], "nice": false, "zero": false},
                      "axis": {"values": [0, 250, 500, 500.5, 1000, 1500, 2000], "labelExpr": "datum.value == 500.5 ? '500' : format(datum.value, 'd')", "titleFontSize": 14.5, "titlePadding": 4}},
                    "color": {"field": "g", "type": "nominal", "title": null, "legend": null,
                      "scale": {"domain": ["Mock","rGI","rGIV","rGIII","rGIIIA"], "range": ["#000000","#ff0000","#a3195b","#1ec81e","#1b1b8a"]}},
                    "shape": {"field": "g", "type": "nominal", "title": null, "legend": null,
                      "scale": {"domain": ["Mock","rGI","rGIV","rGIII","rGIIIA"], "range": ["circle","triangle-up","triangle-down","square","diamond"]}}
                  },
                  "layer": [
                    {"transform": [{"filter": {"field": "g", "oneOf": ["Mock","rGI","rGIV"]}}],
                     "mark": {"type": "point", "filled": true, "size": 26, "opacity": 1},
                     "encoding": {"color": {"field": "g", "type": "nominal", "title": null,
                       "scale": {"domain": ["Mock","rGI","rGIV","rGIII","rGIIIA"], "range": ["#000000","#ff0000","#a3195b","#1ec81e","#1b1b8a"]},
                       "legend": {"values": ["Mock","rGI","rGIV"], "orient": "none", "legendX": 3, "legendY": -36, "direction": "horizontal", "columns": 3, "labelFontSize": 12.5, "symbolSize": 22, "columnPadding": 3, "labelOffset": 3,
                         "labelExpr": "datum.label == 'rGIV' ? 'rGI/V372A-H386Y' : datum.label",
                         "encode": {"symbols": {"update": {"shape": {"signal": "datum.value == 'Mock' ? 'circle' : datum.value == 'rGI' ? 'triangle-up' : 'triangle-down'"}}}}}}}},
                    {"transform": [{"filter": {"field": "g", "oneOf": ["rGIII","rGIIIA"]}}],
                     "mark": {"type": "point", "filled": true, "size": 26, "opacity": 1},
                     "encoding": {"color": {"field": "g", "type": "nominal", "title": null,
                       "scale": {"domain": ["Mock","rGI","rGIV","rGIII","rGIIIA"], "range": ["#000000","#ff0000","#a3195b","#1ec81e","#1b1b8a"]},
                       "legend": {"values": ["rGIII","rGIIIA"], "orient": "none", "legendX": 3, "legendY": -22, "direction": "horizontal", "columns": 2, "labelFontSize": 12.5, "symbolSize": 22, "columnPadding": 3, "labelOffset": 3,
                         "labelExpr": "datum.label == 'rGIIIA' ? 'rGIII/A372V-Y386H' : datum.label",
                         "encode": {"symbols": {"update": {"shape": {"signal": "datum.value == 'rGIII' ? 'square' : 'diamond'"}}}}}}}},
                    {"mark": {"type": "errorbar", "extent": "stdev", "ticks": {"size": 6}, "thickness": 1.2}, "encoding": {"shape": null}},
                    {"mark": {"type": "tick", "size": 11, "thickness": 1.5},
                     "encoding": {"shape": null, "y": {"field": "v", "aggregate": "mean", "type": "quantitative", "title": "IFN-α concentration ( pg /ml)"}}}
                  ]
                },
                {
                  "data": {"name": "a_br"},
                  "encoding": {
                    "x": {"field": "a", "type": "nominal", "title": "Days post-infection(dpi)"},
                    "y": {"field": "y", "type": "quantitative", "title": "IFN-α concentration ( pg /ml)"}
                  },
                  "layer": [
                    {"mark": {"type": "rule", "color": "#333", "strokeWidth": 1, "xOffset": -3, "x2Offset": 3}, "encoding": {"x2": {"field": "b"}}},
                    {"mark": {"type": "rule", "color": "#333", "strokeWidth": 1, "xOffset": -3, "y2Offset": 4}, "encoding": {"y2": {"field": "y"}}},
                    {"mark": {"type": "rule", "color": "#333", "strokeWidth": 1, "xOffset": 3, "y2Offset": 4}, "encoding": {"x": {"field": "b", "type": "nominal", "title": "Days post-infection(dpi)"}, "y2": {"field": "y"}}},
                    {"transform": [{"filter": "datum.a != '4|rGIII'"}],
                     "mark": {"type": "text", "align": "left", "baseline": "bottom", "dx": -5, "dy": -1, "fontSize": 9, "fontWeight": "bold", "color": "#333"}, "encoding": {"text": {"field": "t"}}},
                    {"transform": [{"filter": "datum.a == '4|rGIII'"}],
                     "mark": {"type": "text", "align": "right", "baseline": "bottom", "dx": 4, "dy": -1, "fontSize": 9, "fontWeight": "bold", "color": "#333"}, "encoding": {"x": {"field": "b", "type": "nominal", "title": "Days post-infection(dpi)"}, "text": {"field": "t"}}}
                  ]
                }
              ]
            }
          ]
        },
        {
          "title": {"text": "B", "anchor": "start", "fontSize": 17, "offset": -10},
          "resolve": {"scale": {"color": "independent", "shape": "independent"}},
          "vconcat": [
            {
              "title": {"text": "IFN-β level  in duckling", "fontSize": 15.5, "offset": 4},
              "width": 278, "height": 166,
              "resolve": {"scale": {"color": "independent"}},
              "layer": [
                {
                  "data": {"name": "b_pts"},
                  "transform": [{"calculate": "datum.d + '|' + datum.g", "as": "k"}],
                  "resolve": {"scale": {"color": "independent"}},
                  "encoding": {
                    "x": {"field": "k", "type": "nominal", "title": "Days post-infection(dpi)",
                      "scale": {"domain": ["1|Mock","1|rGI","1|rGIV","1|rGIII","1|rGIIIA","s1","2|Mock","2|rGI","2|rGIV","2|rGIII","2|rGIIIA","s2","3|Mock","3|rGI","3|rGIV","3|rGIII","3|rGIIIA","s3","4|Mock","4|rGI","4|rGIV","4|rGIII","4|rGIIIA"], "paddingInner": 0, "paddingOuter": 0},
                      "axis": {"values": ["1|rGIV","2|rGIV","3|rGIV","4|rGIV"], "labelExpr": "split(datum.value,'|')[0]", "labelAngle": 0, "titleFontSize": 17, "labelFontSize": 12, "titlePadding": 1}},
                    "y": {"field": "v", "type": "quantitative", "title": "IFN-β concentration ( pg /ml)",
                      "scale": {"domain": [0, 500, 500.5, 2000], "range": [166, 119, 107, 0], "nice": false, "zero": false},
                      "axis": {"values": [0, 250, 500, 500.5, 1000, 1500, 2000], "labelExpr": "datum.value == 500.5 ? '500' : format(datum.value, 'd')", "titleFontSize": 14.5, "titlePadding": 18}},
                    "color": {"field": "g", "type": "nominal", "title": null, "legend": null,
                      "scale": {"domain": ["Mock","rGI","rGIV","rGIII","rGIIIA"], "range": ["#000000","#ff0000","#a3195b","#1ec81e","#1b1b8a"]}},
                    "shape": {"field": "g", "type": "nominal", "title": null, "legend": null,
                      "scale": {"domain": ["Mock","rGI","rGIV","rGIII","rGIIIA"], "range": ["circle","triangle-up","triangle-down","square","diamond"]}}
                  },
                  "layer": [
                    {"transform": [{"filter": {"field": "g", "oneOf": ["Mock","rGI","rGIV"]}}],
                     "mark": {"type": "point", "filled": true, "size": 26, "opacity": 1},
                     "encoding": {"color": {"field": "g", "type": "nominal", "title": null,
                       "scale": {"domain": ["Mock","rGI","rGIV","rGIII","rGIIIA"], "range": ["#000000","#ff0000","#a3195b","#1ec81e","#1b1b8a"]},
                       "legend": {"values": ["Mock","rGI","rGIV"], "orient": "none", "legendX": 1, "legendY": -34, "direction": "horizontal", "columns": 3, "labelFontSize": 12.5, "symbolSize": 22, "columnPadding": 3, "labelOffset": 3,
                         "labelExpr": "datum.label == 'rGIV' ? 'rGI/V372A-H386Y' : datum.label",
                         "encode": {"symbols": {"update": {"shape": {"signal": "datum.value == 'Mock' ? 'circle' : datum.value == 'rGI' ? 'triangle-up' : 'triangle-down'"}}}}}}}},
                    {"transform": [{"filter": {"field": "g", "oneOf": ["rGIII","rGIIIA"]}}],
                     "mark": {"type": "point", "filled": true, "size": 26, "opacity": 1},
                     "encoding": {"color": {"field": "g", "type": "nominal", "title": null,
                       "scale": {"domain": ["Mock","rGI","rGIV","rGIII","rGIIIA"], "range": ["#000000","#ff0000","#a3195b","#1ec81e","#1b1b8a"]},
                       "legend": {"values": ["rGIII","rGIIIA"], "orient": "none", "legendX": 1, "legendY": -21, "direction": "horizontal", "columns": 2, "labelFontSize": 12.5, "symbolSize": 22, "columnPadding": 3, "labelOffset": 3,
                         "labelExpr": "datum.label == 'rGIIIA' ? 'rGIII/A372V-Y386H' : datum.label",
                         "encode": {"symbols": {"update": {"shape": {"signal": "datum.value == 'rGIII' ? 'square' : 'diamond'"}}}}}}}},
                    {"mark": {"type": "errorbar", "extent": "stdev", "ticks": {"size": 6}, "thickness": 1.2}, "encoding": {"shape": null}},
                    {"mark": {"type": "tick", "size": 11, "thickness": 1.5},
                     "encoding": {"shape": null, "y": {"field": "v", "aggregate": "mean", "type": "quantitative", "title": "IFN-β concentration ( pg /ml)"}}}
                  ]
                },
                {
                  "data": {"name": "b_br"},
                  "encoding": {
                    "x": {"field": "a", "type": "nominal", "title": "Days post-infection(dpi)"},
                    "y": {"field": "y", "type": "quantitative", "title": "IFN-β concentration ( pg /ml)"}
                  },
                  "layer": [
                    {"mark": {"type": "rule", "color": "#333", "strokeWidth": 1, "xOffset": -3, "x2Offset": 3}, "encoding": {"x2": {"field": "b"}}},
                    {"mark": {"type": "rule", "color": "#333", "strokeWidth": 1, "xOffset": -3, "y2Offset": 4}, "encoding": {"y2": {"field": "y"}}},
                    {"mark": {"type": "rule", "color": "#333", "strokeWidth": 1, "xOffset": 3, "y2Offset": 4}, "encoding": {"x": {"field": "b", "type": "nominal", "title": "Days post-infection(dpi)"}, "y2": {"field": "y"}}},
                    {"transform": [{"filter": "datum.a != '4|rGIII'"}],
                     "mark": {"type": "text", "align": "left", "baseline": "bottom", "dx": -5, "dy": -1, "fontSize": 9, "fontWeight": "bold", "color": "#333"}, "encoding": {"text": {"field": "t"}}},
                    {"transform": [{"filter": "datum.a == '4|rGIII'"}],
                     "mark": {"type": "text", "align": "right", "baseline": "bottom", "dx": 4, "dy": -1, "fontSize": 9, "fontWeight": "bold", "color": "#333"}, "encoding": {"x": {"field": "b", "type": "nominal", "title": "Days post-infection(dpi)"}, "text": {"field": "t"}}}
                  ]
                }
              ]
            }
          ]
        }
      ],
      "spacing": 9,
      "resolve": {"scale": {"color": "independent", "shape": "independent"}}
    },
    {
      "hconcat": [
        {
          "title": {"text": "C", "anchor": "start", "fontSize": 17, "offset": -10},
          "resolve": {"scale": {"color": "independent", "shape": "independent"}},
          "vconcat": [
            {
              "title": {"text": "Viremia", "fontSize": 15.5, "offset": 4},
              "width": 281, "height": 139,
              "resolve": {"scale": {"color": "independent"}},
              "layer": [
                {
                  "data": {"name": "c_sum"},
                  "transform": [{"calculate": "datum.d + '|' + datum.g", "as": "k"}],
                  "encoding": {
                    "x": {"field": "k", "type": "nominal", "title": "Days post-infection(dpi)"},
                    "color": {"field": "g", "type": "nominal", "title": null, "legend": null,
                      "scale": {"domain": ["Mock","rGI","rGIV","rGIII","rGIIIA"], "range": ["#000000","#ff0000","#a3195b","#1ec81e","#1b1b8a"]}}
                  },
                  "layer": [
                    {"mark": {"type": "rule", "strokeWidth": 2, "opacity": 0.5}, "encoding": {"y": {"field": "lo", "type": "quantitative", "title": "Viremia (Log₁₀ PFU/100 μL)"}, "y2": {"field": "hi"}}},
                    {"mark": {"type": "tick", "size": 7, "thickness": 1.5, "opacity": 0.6}, "encoding": {"y": {"field": "lo", "type": "quantitative", "title": "Viremia (Log₁₀ PFU/100 μL)"}}},
                    {"mark": {"type": "tick", "size": 7, "thickness": 1.5, "opacity": 0.6}, "encoding": {"y": {"field": "hi", "type": "quantitative", "title": "Viremia (Log₁₀ PFU/100 μL)"}}},
                    {"mark": {"type": "tick", "size": 11, "thickness": 1.5, "opacity": 0.7}, "encoding": {"y": {"field": "m", "type": "quantitative", "title": "Viremia (Log₁₀ PFU/100 μL)"}}}
                  ]
                },
                {
                  "data": {"name": "c_pts"},
                  "transform": [{"calculate": "datum.d + '|' + datum.g", "as": "k"}],
                  "resolve": {"scale": {"color": "independent"}},
                  "encoding": {
                    "x": {"field": "k", "type": "nominal", "title": "Days post-infection(dpi)",
                      "scale": {"domain": ["1|Mock","1|rGI","1|rGIV","1|rGIII","1|rGIIIA","s1","2|Mock","2|rGI","2|rGIV","2|rGIII","2|rGIIIA","s2","3|Mock","3|rGI","3|rGIV","3|rGIII","3|rGIIIA","s3","4|Mock","4|rGI","4|rGIV","4|rGIII","4|rGIIIA"], "paddingInner": 0, "paddingOuter": 0},
                      "axis": {"values": ["1|rGIV","2|rGIV","3|rGIV","4|rGIV"], "labelExpr": "split(datum.value,'|')[0]", "labelAngle": 0, "titleFontSize": 18, "labelFontSize": 12, "titlePadding": 1}},
                    "y": {"field": "v", "type": "quantitative", "title": "Viremia (Log₁₀ PFU/100 μL)",
                      "scale": {"domain": [0, 3.63], "nice": false, "zero": true},
                      "axis": {"values": [0, 0.5, 1, 1.5, 2, 2.5, 3, 3.5], "format": ".1f", "titleFontSize": 12, "titlePadding": 3}},
                    "shape": {"field": "g", "type": "nominal", "title": null, "legend": null,
                      "scale": {"domain": ["Mock","rGI","rGIV","rGIII","rGIIIA"], "range": ["circle","triangle-up","triangle-down","square","diamond"]}}
                  },
                  "layer": [
                    {"transform": [{"filter": {"field": "g", "oneOf": ["Mock","rGI","rGIV"]}}],
                     "mark": {"type": "point", "filled": true, "size": 24, "opacity": 1},
                     "encoding": {"color": {"field": "g", "type": "nominal", "title": null,
                       "scale": {"domain": ["Mock","rGI","rGIV","rGIII","rGIIIA"], "range": ["#000000","#ff0000","#a3195b","#1ec81e","#1b1b8a"]},
                       "legend": {"values": ["Mock","rGI","rGIV"], "orient": "none", "legendX": 4, "legendY": -51, "direction": "horizontal", "columns": 3, "labelFontSize": 12.5, "symbolSize": 22, "columnPadding": 3, "labelOffset": 3,
                         "labelExpr": "datum.label == 'rGIV' ? 'rGI/V372A-H386Y' : datum.label",
                         "encode": {"symbols": {"update": {"shape": {"signal": "datum.value == 'Mock' ? 'circle' : datum.value == 'rGI' ? 'triangle-up' : 'triangle-down'"}}}}}}}},
                    {"transform": [{"filter": {"field": "g", "oneOf": ["rGIII","rGIIIA"]}}],
                     "mark": {"type": "point", "filled": true, "size": 24, "opacity": 1},
                     "encoding": {"color": {"field": "g", "type": "nominal", "title": null,
                       "scale": {"domain": ["Mock","rGI","rGIV","rGIII","rGIIIA"], "range": ["#000000","#ff0000","#a3195b","#1ec81e","#1b1b8a"]},
                       "legend": {"values": ["rGIII","rGIIIA"], "orient": "none", "legendX": 4, "legendY": -38, "direction": "horizontal", "columns": 2, "labelFontSize": 12.5, "symbolSize": 22, "columnPadding": 3, "labelOffset": 3,
                         "labelExpr": "datum.label == 'rGIIIA' ? 'rGIII/A372V-Y386H' : datum.label",
                         "encode": {"symbols": {"update": {"shape": {"signal": "datum.value == 'rGIII' ? 'square' : 'diamond'"}}}}}}}}
                  ]
                },
                {
                  "data": {"name": "c_br"},
                  "encoding": {
                    "x": {"field": "a", "type": "nominal", "title": "Days post-infection(dpi)"},
                    "y": {"field": "y", "type": "quantitative", "title": "Viremia (Log₁₀ PFU/100 μL)"}
                  },
                  "layer": [
                    {"mark": {"type": "rule", "color": "#333", "strokeWidth": 1, "xOffset": -3, "x2Offset": 3}, "encoding": {"x2": {"field": "b"}}},
                    {"mark": {"type": "rule", "color": "#333", "strokeWidth": 1, "xOffset": -3, "y2Offset": 4}, "encoding": {"y2": {"field": "y"}}},
                    {"mark": {"type": "rule", "color": "#333", "strokeWidth": 1, "xOffset": 3, "y2Offset": 4}, "encoding": {"x": {"field": "b", "type": "nominal", "title": "Days post-infection(dpi)"}, "y2": {"field": "y"}}},
                    {"mark": {"type": "text", "align": "left", "baseline": "bottom", "dx": -5, "dy": -1, "fontSize": 9, "fontWeight": "bold", "color": "#333"}, "encoding": {"text": {"field": "t"}}}
                  ]
                }
              ]
            }
          ]
        },
        {
          "title": {"text": "D", "anchor": "start", "fontSize": 17, "offset": -10},
          "resolve": {"scale": {"color": "independent", "shape": "independent"}},
          "vconcat": [
            {
              "title": {"text": "Viral loads", "fontSize": 15.5, "offset": 4},
              "width": 320, "height": 139,
              "layer": [
                {
                  "data": {"name": "d_pts"},
                  "transform": [{"calculate": "datum.o + '|' + datum.d + '|' + datum.g", "as": "k"}],
                  "encoding": {
                    "x": {"field": "k", "type": "nominal", "title": "Days post-infection(dpi)",
                      "scale": {"domain": ["Spleen|1|Mock","Spleen|1|rGI","Spleen|1|rGIV","Spleen|1|rGIII","Spleen|1|rGIIIA","Spleen|2|Mock","Spleen|2|rGI","Spleen|2|rGIV","Spleen|2|rGIII","Spleen|2|rGIIIA","Spleen|3|Mock","Spleen|3|rGI","Spleen|3|rGIV","Spleen|3|rGIII","Spleen|3|rGIIIA","Spleen|4|Mock","Spleen|4|rGI","Spleen|4|rGIV","Spleen|4|rGIII","Spleen|4|rGIIIA","Liver|2|Mock","Liver|2|rGI","Liver|2|rGIV","Liver|2|rGIII","Liver|2|rGIIIA","Liver|3|Mock","Liver|3|rGI","Liver|3|rGIV","Liver|3|rGIII","Liver|3|rGIIIA","Lung|2|Mock","Lung|2|rGI","Lung|2|rGIV","Lung|2|rGIII","Lung|2|rGIIIA","Lung|3|Mock","Lung|3|rGI","Lung|3|rGIV","Lung|3|rGIII","Lung|3|rGIIIA","Heart|2|Mock","Heart|2|rGI","Heart|2|rGIV","Heart|2|rGIII","Heart|2|rGIIIA","Heart|3|Mock","Heart|3|rGI","Heart|3|rGIV","Heart|3|rGIII","Heart|3|rGIIIA","Kidney|2|Mock","Kidney|2|rGI","Kidney|2|rGIV","Kidney|2|rGIII","Kidney|2|rGIIIA","Kidney|3|Mock","Kidney|3|rGI","Kidney|3|rGIV","Kidney|3|rGIII","Kidney|3|rGIIIA","Brain|2|Mock","Brain|2|rGI","Brain|2|rGIV","Brain|2|rGIII","Brain|2|rGIIIA","Brain|3|Mock","Brain|3|rGI","Brain|3|rGIV","Brain|3|rGIII","Brain|3|rGIIIA"], "paddingInner": 0, "paddingOuter": 0},
                      "axis": {"values": ["Spleen|1|rGIV","Spleen|2|rGIV","Spleen|3|rGIV","Spleen|4|rGIV","Liver|2|rGIV","Liver|3|rGIV","Lung|2|rGIV","Lung|3|rGIV","Heart|2|rGIV","Heart|3|rGIV","Kidney|2|rGIV","Kidney|3|rGIV","Brain|2|rGIV","Brain|3|rGIV"], "labelExpr": "split(datum.value,'|')[1]", "labelAngle": 0, "titleFontSize": 18, "labelFontSize": 12, "titlePadding": 5}},
                    "y": {"field": "v", "type": "quantitative", "title": "Virus titer (Log10 PFU/0.1g)",
                      "scale": {"domain": [0, 4], "nice": false},
                      "axis": {"values": [0, 1, 2, 3, 4], "titleFontSize": 10.5, "titlePadding": 3}},
                    "color": {"field": "g", "type": "nominal", "title": null,
                      "scale": {"domain": ["Mock","rGI","rGIV","rGIII","rGIIIA"], "range": ["#000000","#ff0000","#a3195b","#1ec81e","#1b1b8a"]},
                      "legend": {"orient": "none", "legendX": 0, "legendY": -51, "direction": "horizontal", "columns": 5, "labelFontSize": 10, "symbolSize": 10, "columnPadding": 2, "labelOffset": 2, "labelExpr": "datum.label == 'rGIV' ? 'rGI/V372A-H386Y' : datum.label == 'rGIIIA' ? 'rGIII/A372V-Y386H' : datum.label"}}
                  },
                  "layer": [
                    {"mark": {"type": "rule", "strokeWidth": 1.5, "opacity": 0.55},
                     "encoding": {"y": {"field": "v", "aggregate": "min", "type": "quantitative", "title": "Virus titer (Log10 PFU/0.1g)"}, "y2": {"field": "v", "aggregate": "max"}}},
                    {"mark": {"type": "point", "filled": true, "size": 10, "opacity": 1},
                     "encoding": {"shape": {"field": "g", "type": "nominal", "title": null, "scale": {"domain": ["Mock","rGI","rGIV","rGIII","rGIIIA"], "range": ["circle","triangle-up","triangle-down","square","diamond"]},
                       "legend": {"orient": "none", "legendX": 0, "legendY": -51, "direction": "horizontal", "columns": 5, "labelFontSize": 10, "symbolSize": 10, "columnPadding": 2, "labelOffset": 2, "labelExpr": "datum.label == 'rGIV' ? 'rGI/V372A-H386Y' : datum.label == 'rGIIIA' ? 'rGIII/A372V-Y386H' : datum.label"}}}},
                    {"mark": {"type": "tick", "size": 4, "thickness": 1},
                     "encoding": {"y": {"field": "v", "aggregate": "mean", "type": "quantitative", "title": "Virus titer (Log10 PFU/0.1g)"}}}
                  ]
                },
                {
                  "data": {"name": "d_org"},
                  "transform": [{"calculate": "datum.o + '|2|Mock'", "as": "ks"}, {"calculate": "datum.o + '|3|Mock'", "as": "kc"}],
                  "layer": [
                    {"transform": [{"filter": "datum.o != 'Spleen'"}],
                     "mark": {"type": "rule", "strokeDash": [2, 2], "color": "#777", "strokeWidth": 1},
                     "encoding": {"x": {"field": "ks", "type": "nominal", "bandPosition": 0, "title": "Days post-infection(dpi)"}, "y": {"datum": 0, "type": "quantitative", "title": "Virus titer (Log10 PFU/0.1g)"}, "y2": {"datum": 4.12}}},
                    {"mark": {"type": "text", "fontSize": 12.5, "fontWeight": "bold", "baseline": "middle"},
                     "encoding": {"x": {"field": "kc", "type": "nominal", "bandPosition": 0, "title": "Days post-infection(dpi)"}, "y": {"datum": 4.72, "type": "quantitative", "title": "Virus titer (Log10 PFU/0.1g)"}, "text": {"field": "o"}}}
                  ]
                },
                {
                  "data": {"name": "d_br"},
                  "encoding": {
                    "x": {"field": "a", "type": "nominal", "title": "Days post-infection(dpi)"},
                    "y": {"field": "y", "type": "quantitative", "title": "Virus titer (Log10 PFU/0.1g)"}
                  },
                  "layer": [
                    {"mark": {"type": "rule", "color": "#333", "strokeWidth": 1, "xOffset": -2, "x2Offset": 2}, "encoding": {"x2": {"field": "b"}}},
                    {"mark": {"type": "rule", "color": "#333", "strokeWidth": 1, "xOffset": -2, "y2Offset": 3}, "encoding": {"y2": {"field": "y"}}},
                    {"mark": {"type": "rule", "color": "#333", "strokeWidth": 1, "xOffset": 2, "y2Offset": 3}, "encoding": {"x": {"field": "b", "type": "nominal", "title": "Days post-infection(dpi)"}, "y2": {"field": "y"}}},
                    {"mark": {"type": "text", "align": "center", "baseline": "bottom", "dy": 1, "fontSize": 11, "fontWeight": "bold", "color": "#333"}, "encoding": {"x": {"field": "b", "type": "nominal", "bandPosition": 0, "title": "Days post-infection(dpi)"}, "text": {"field": "t"}}}
                  ]
                }
              ]
            }
          ]
        }
      ],
      "spacing": 19,
      "resolve": {"scale": {"color": "independent", "shape": "independent"}}
    }
  ],
  "spacing": 26,
  "resolve": {"scale": {"color": "independent", "shape": "independent"}},
  "config": {
    "font": "Liberation Serif",
    "view": {"stroke": null},
    "axis": {"labelFont": "Liberation Serif", "titleFont": "Liberation Serif", "labelFontWeight": "bold", "titleFontWeight": "bold", "labelColor": "#000", "titleColor": "#000", "domainColor": "#000", "tickColor": "#000", "domainWidth": 1.5, "tickWidth": 1.5, "grid": false, "labelFontSize": 11.5, "tickSize": 4, "labelPadding": 2, "labelOverlap": false},
    "legend": {"labelFont": "Liberation Serif", "labelFontWeight": "bold", "labelColor": "#000", "symbolStrokeWidth": 0},
    "title": {"font": "Liberation Serif", "fontWeight": "bold", "color": "#000"},
    "text": {"font": "Liberation Serif"}
  }
}
